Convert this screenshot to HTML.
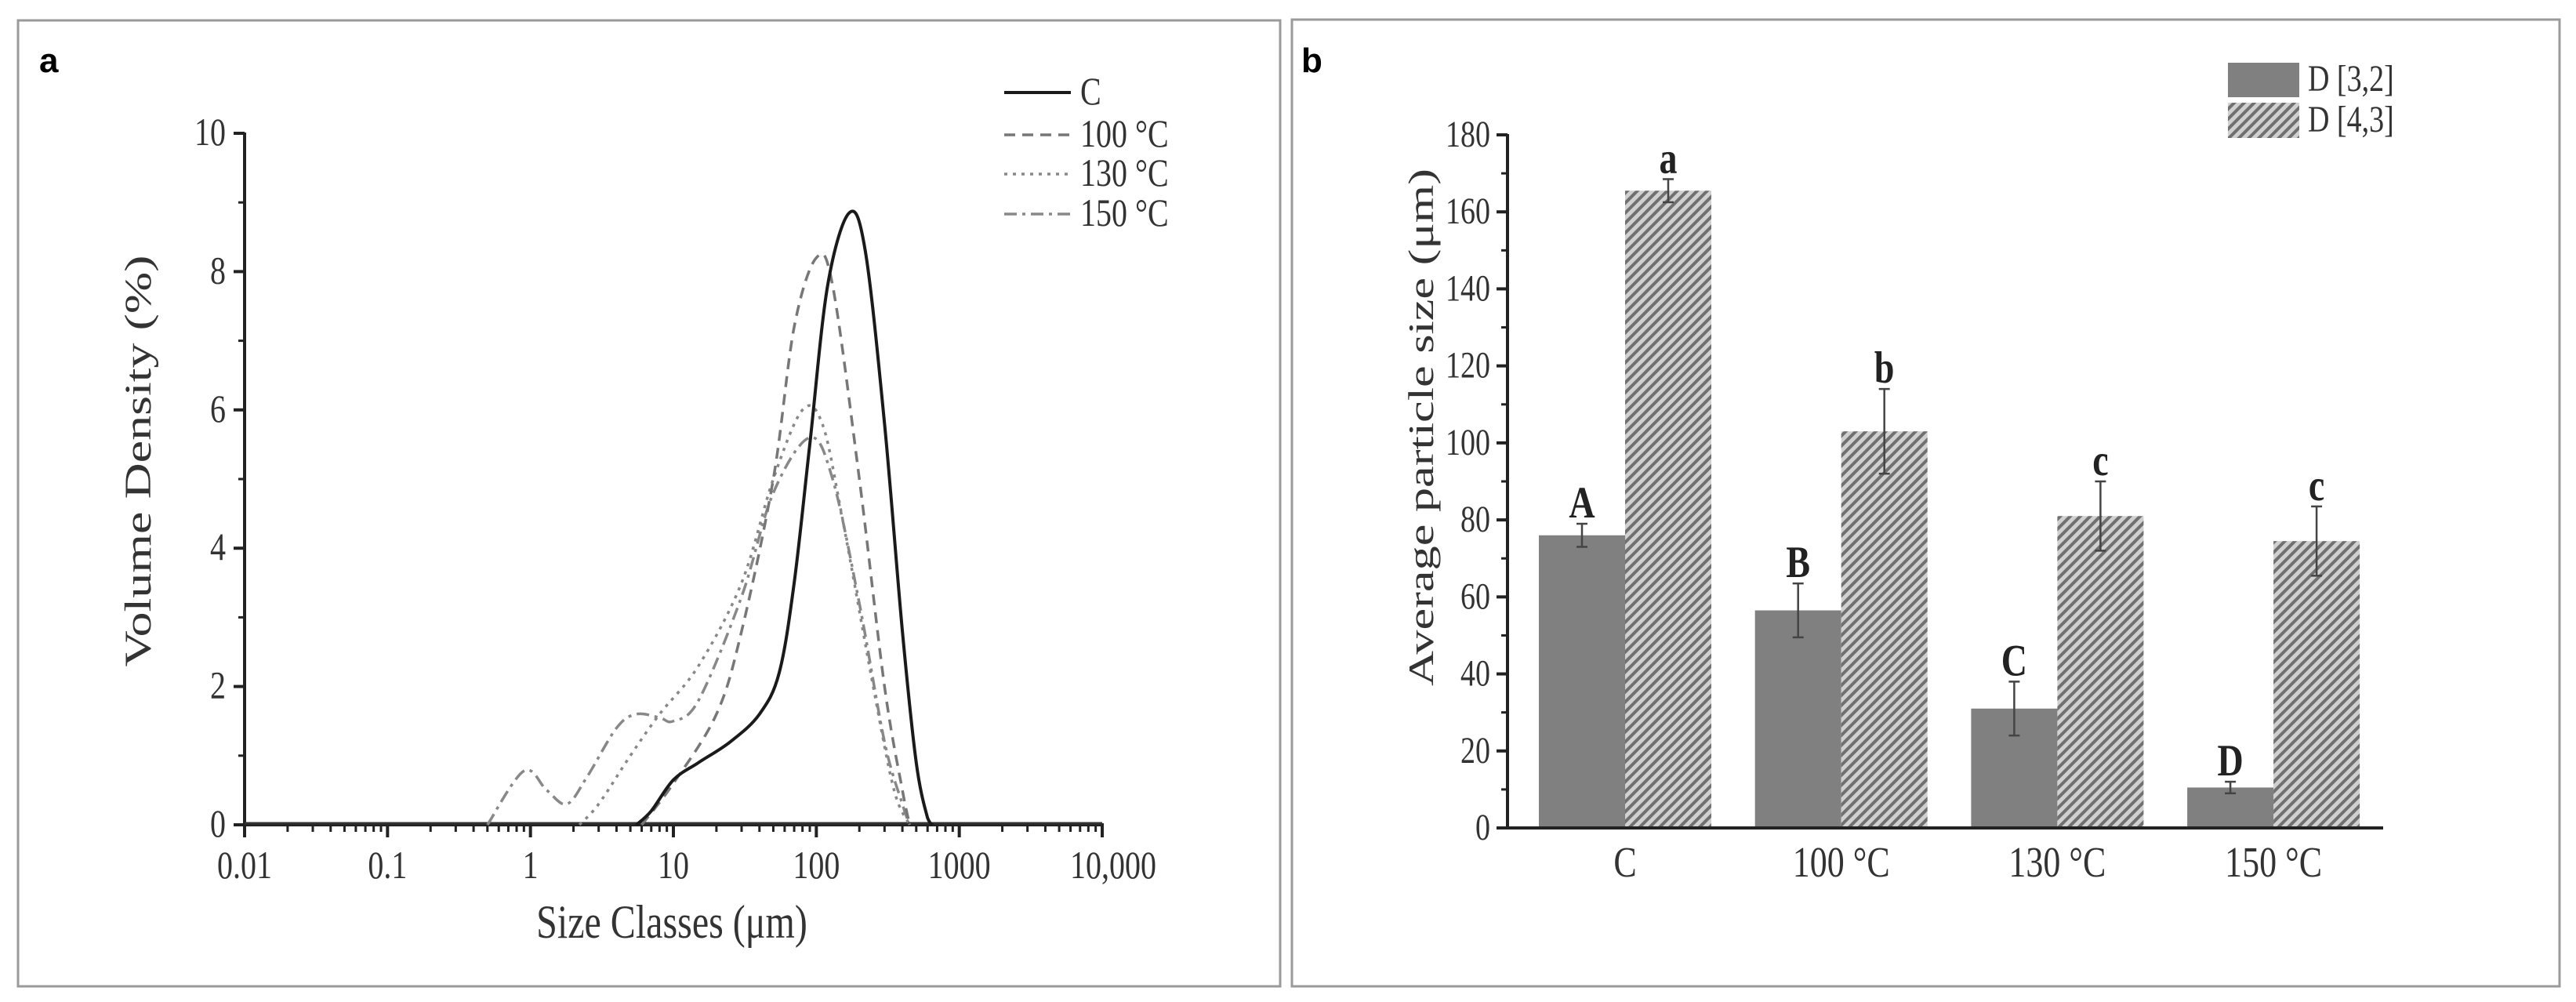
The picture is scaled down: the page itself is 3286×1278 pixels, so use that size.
<!DOCTYPE html>
<html><head><meta charset="utf-8"><style>
html,body{margin:0;padding:0;background:#fff;}
svg{display:block;font-family:"Liberation Serif",serif;}
</style></head><body>
<svg id="fig" width="3286" height="1278" viewBox="0 0 3286 1278" xmlns="http://www.w3.org/2000/svg">
<defs>
<pattern id="hatch" patternUnits="userSpaceOnUse" width="9" height="9" patternTransform="rotate(45)">
<rect width="9" height="9" fill="#d0d0d0"/><rect width="4" height="9" fill="#707070"/>
</pattern>
</defs>
<rect x="23" y="26" width="1610" height="1232" fill="none" stroke="#9a9a9a" stroke-width="3"/>
<rect x="1648" y="25" width="1617" height="1233" fill="none" stroke="#9a9a9a" stroke-width="3"/>
<text x="50" y="92" font-family="Liberation Sans,sans-serif" font-weight="bold" font-size="44">a</text>
<text x="1660" y="92" font-family="Liberation Sans,sans-serif" font-weight="bold" font-size="44">b</text>
<g id="ga"></g><g id="gb"></g>
</svg>
<script>
// Panel a data
const seriesNames = ["C","100 °C","130 °C","150 °C"];
const cSize = [5.5,7,10,15,25,40,55,70,90,120,170,220,300,400,500,600,650];
const cDens = [0,0.2,0.65,0.9,1.2,1.6,2.2,3.5,5.5,7.8,8.85,8.3,5.8,2.8,0.9,0.1,0];
const s100Size = [6,10,20,30,50,70,100,130,200,300,400,450];
const s100Dens = [0,0.6,1.6,2.8,5.0,7.2,8.2,7.8,5.0,2.0,0.5,0];
const s130Size = [2.2,3,5,8,15,30,50,80,110,150,250,350,450];
const s130Dens = [0,0.3,1.0,1.6,2.3,3.5,5.0,6.0,5.8,4.5,2.0,0.5,0];
const s150Size = [0.5,0.9,1.3,1.8,2.5,4,5.5,8,10,15,30,50,90,130,200,300,400,450];
const s150Dens = [0,0.78,0.5,0.3,0.7,1.4,1.6,1.55,1.5,1.8,3.3,4.8,5.6,5.0,3.2,1.2,0.3,0];
const xTickLabels = ["0.01","0.1","1","10","100","1000","10,000"];
const yTickLabelsA = ["0","2","4","6","8","10"];
// Panel b data
const categories = ["C","100 °C","130 °C","150 °C"];
const d32 = [76,56.5,31,10.5];
const d32Err = [3,7,7,1.5];
const d43 = [165.5,103,81,74.5];
const d43Err = [3,11,9,9];
const d32Letters = ["A","B","C","D"];
const d43Letters = ["a","b","c","c"];
const yTickLabelsB = ["0","20","40","60","80","100","120","140","160","180"];

const NS="http://www.w3.org/2000/svg";
const SY=1.25;
function mk(tag,attrs,parent,txt){const e=document.createElementNS(NS,tag);for(const k in attrs)e.setAttribute(k,attrs[k]);if(txt!==undefined)e.textContent=txt;parent.appendChild(e);return e;}
function tx(x,y,attrs,parent,txt){attrs.x=0;attrs.y=0;attrs.transform='translate('+x+','+y+') scale(1,'+SY+')';return mk('text',attrs,parent,txt);}
const ga=document.getElementById('ga'), gb=document.getElementById('gb');

// ---- Panel A axes
const ax0=312, ax1=1406, ay0=1052, ay1=170;
const xA=v=>ax0+(Math.log10(v)+2)/6*(ax1-ax0);
const yA=v=>ay0-v/10*(ay0-ay1);
let e;
e=mk('line',{x1:ax0,y1:ay0,x2:ax0,y2:ay1-1,stroke:'#222','stroke-width':4},ga);


e=mk('line',{x1:ax0-2,y1:ay0,x2:ax1+2,y2:ay0,stroke:'#222','stroke-width':4},ga);


yTickLabelsA.forEach((t,i)=>{const v=+t;const y=yA(v);
 mk('line',{x1:ax0-14,y1:y,x2:ax0,y2:y,stroke:'#222','stroke-width':4},ga);
 if(i<yTickLabelsA.length-1) mk('line',{x1:ax0-8,y1:yA(v+1),x2:ax0,y2:yA(v+1),stroke:'#222','stroke-width':3},ga);
 e=tx(ax0-24,y+15,{'text-anchor':'end','font-size':40,fill:'#333'},ga,t);
 
 
});
xTickLabels.forEach((t,i)=>{const d=i-2;const x=xA(Math.pow(10,d));
 mk('line',{x1:x,y1:ay0,x2:x,y2:ay0+16,stroke:'#222','stroke-width':4},ga);
 if(i<6) for(let m=2;m<10;m++){const xm=xA(m*Math.pow(10,d));mk('line',{x1:xm,y1:ay0,x2:xm,y2:ay0+9,stroke:'#222','stroke-width':3},ga);}
 e=tx(x+(i==6?14:0),ay0+68,{'text-anchor':'middle','font-size':40,fill:'#333'},ga,t);
 
 
});
e=tx(857,1196,{'text-anchor':'middle','font-size':48,fill:'#333'},ga,'Size Classes (μm)');


e=mk('text',{x:0,y:0,transform:'translate(192,588) rotate(-90)','text-anchor':'middle','font-size':48,fill:'#333',textLength:525,lengthAdjust:'spacingAndGlyphs'},ga,'Volume Density (%)');



function smoothPath(xs,ys){const p=xs.map((s,i)=>[xA(s),yA(ys[i])]);let d='M'+p[0][0]+','+p[0][1];
 for(let i=0;i<p.length-1;i++){const p0=p[i-1]||p[i],p1=p[i],p2=p[i+1],p3=p[i+2]||p2;
  const c1=[p1[0]+(p2[0]-p0[0])/6,p1[1]+(p2[1]-p0[1])/6],c2=[p2[0]-(p3[0]-p1[0])/6,p2[1]-(p3[1]-p1[1])/6];
  d+=' C'+c1[0]+','+Math.min(c1[1],ay0)+' '+c2[0]+','+Math.min(c2[1],ay0)+' '+p2[0]+','+p2[1];}
 return d;}
const styles=[{stroke:'#1a1a1a',dash:'none',w:4},{stroke:'#777',dash:'14,9',w:3.5},{stroke:'#888',dash:'4,7',w:3.5},{stroke:'#888',dash:'16,7,4,7',w:3.5}];
const sx=[cSize,s100Size,s130Size,s150Size], sy=[cDens,s100Dens,s130Dens,s150Dens];
e=mk('line',{x1:ax0,y1:ay0-2,x2:ax1,y2:ay0-2,stroke:'#333','stroke-width':3},ga);


[3,2,1,0].forEach(k=>{
 e=mk('path',{d:smoothPath(sx[k],sy[k]),fill:'none',stroke:styles[k].stroke,'stroke-width':styles[k].w,'stroke-dasharray':styles[k].dash},ga);
 
 
});
seriesNames.forEach((n,k)=>{const y=[118,172,222,273][k];
 mk('line',{x1:1281,y1:y,x2:1366,y2:y,stroke:styles[k].stroke,'stroke-width':styles[k].w,'stroke-dasharray':styles[k].dash},ga);
 e=tx(1378,y+15,{'font-size':40,fill:'#333'},ga,n);
 
 
});

// ---- Panel B
const bx0=1923, bx1=3040, by0=1056, by1=172;
const yB=v=>by0-v/180*(by0-by1);
const gStart=1963, gStep=275.7, bw=110;
categories.forEach((c,i)=>{const gx=gStart+i*gStep;
 e=mk('rect',{x:gx,y:yB(d32[i]),width:bw,height:by0-yB(d32[i]),fill:'#808080'},gb);
 
 
 e=mk('rect',{x:gx+bw,y:yB(d43[i]),width:bw,height:by0-yB(d43[i]),fill:'url(#hatch)'},gb);
 
 
 [[gx+bw/2,d32[i],d32Err[i],d32Letters[i]],[gx+bw*1.5,d43[i],d43Err[i],d43Letters[i]]].forEach(([cx,v,er,l])=>{
  mk('line',{x1:cx,y1:yB(v+er),x2:cx,y2:yB(v-er),stroke:'#444','stroke-width':2.5},gb);
  mk('line',{x1:cx-7,y1:yB(v+er),x2:cx+7,y2:yB(v+er),stroke:'#444','stroke-width':2.5},gb);
  mk('line',{x1:cx-7,y1:yB(v-er),x2:cx+7,y2:yB(v-er),stroke:'#444','stroke-width':2.5},gb);
  e=tx(cx,yB(v+er)-8,{'text-anchor':'middle','font-size':46,'font-weight':'bold',fill:'#222'},gb,l);
  
  
 });
 e=tx(gx+bw,1118,{'text-anchor':'middle','font-size':44,fill:'#333'},gb,c);
 
 
});
e=mk('line',{x1:bx0,y1:by0,x2:bx0,y2:by1-1,stroke:'#222','stroke-width':4},gb);


e=mk('line',{x1:bx0-2,y1:by0,x2:bx1,y2:by0,stroke:'#222','stroke-width':4},gb);


yTickLabelsB.forEach((t,i)=>{const v=+t,y=yB(v);
 mk('line',{x1:bx0-14,y1:y,x2:bx0,y2:y,stroke:'#222','stroke-width':4},gb);
 if(i<yTickLabelsB.length-1) mk('line',{x1:bx0-8,y1:yB(v+10),x2:bx0,y2:yB(v+10),stroke:'#222','stroke-width':3},gb);
 e=tx(bx0-22,y+15,{'text-anchor':'end','font-size':38,fill:'#333'},gb,t);
 
 
});
e=mk('text',{x:0,y:0,transform:'translate(1828,545) rotate(-90)','text-anchor':'middle','font-size':46,fill:'#333',textLength:660,lengthAdjust:'spacingAndGlyphs'},gb,'Average particle size (μm)');


e=mk('rect',{x:2842,y:80,width:91,height:44,fill:'#808080'},gb);


e=mk('rect',{x:2842,y:131,width:91,height:45,fill:'url(#hatch)'},gb);


e=tx(2944,116,{'font-size':38,fill:'#333'},gb,'D [3,2]');


e=tx(2944,168,{'font-size':38,fill:'#333'},gb,'D [4,3]');


</script>
</body></html>
